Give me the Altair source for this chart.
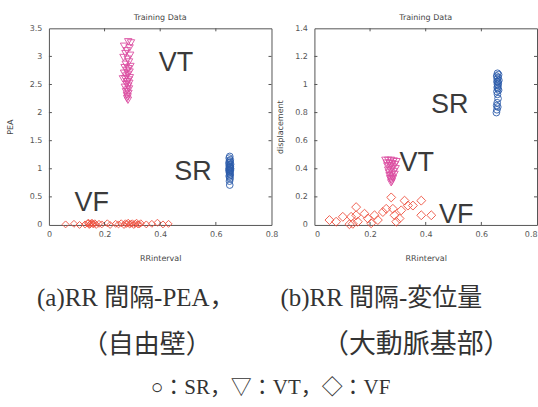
import altair as alt
import pandas as pd

# ---- panel (a): RR interval vs PEA (free wall) ----
sr_a_x = [0.650, 0.648, 0.652, 0.649, 0.651, 0.647, 0.653, 0.650, 0.648, 0.652, 0.650, 0.651, 0.649, 0.653,
          0.647, 0.650, 0.652, 0.648, 0.651, 0.649, 0.650, 0.652, 0.648, 0.650, 0.651, 0.649, 0.650]
sr_a_y = [1.22, 1.19, 1.16, 1.14, 1.12, 1.10, 1.08, 1.07, 1.05, 1.04, 1.03, 1.02, 1.01, 1.00,
          0.99, 0.98, 0.97, 0.96, 0.95, 0.93, 0.91, 0.89, 0.87, 0.85, 0.82, 0.78, 0.71]

vt_a_x = [0.285, 0.295, 0.270, 0.290, 0.280, 0.275, 0.292, 0.268, 0.283, 0.288, 0.276, 0.293, 0.272, 0.286,
          0.280, 0.290, 0.270, 0.284, 0.278, 0.291, 0.274, 0.287, 0.281, 0.266, 0.289, 0.279, 0.285, 0.273,
          0.288, 0.282, 0.277, 0.286, 0.280, 0.283, 0.281, 0.284]
vt_a_y = [3.26, 3.24, 3.18, 3.15, 3.10, 3.05, 3.02, 2.98, 2.95, 2.90, 2.86, 2.82, 2.80, 2.78,
          2.75, 2.72, 2.70, 2.68, 2.65, 2.62, 2.60, 2.58, 2.55, 2.60, 2.52, 2.50, 2.47, 2.45,
          2.42, 2.40, 2.37, 2.34, 2.31, 2.28, 2.25, 2.22]

vf_a_x = [0.06, 0.09, 0.11, 0.13, 0.14, 0.145, 0.15, 0.155, 0.16, 0.165, 0.17, 0.18, 0.19, 0.21, 0.22, 0.24,
          0.25, 0.26, 0.27, 0.28, 0.285, 0.29, 0.30, 0.305, 0.31, 0.32, 0.33, 0.35, 0.37, 0.39, 0.41, 0.43,
          0.142, 0.148, 0.152, 0.158, 0.275, 0.295, 0.315, 0.325]
vf_a_y = [0.01, 0.02, 0.00, 0.01, 0.03, 0.00, 0.02, 0.04, 0.01, 0.03, 0.00, 0.02, 0.01, 0.03, 0.00, 0.02,
          0.01, 0.03, 0.00, 0.02, 0.04, 0.01, 0.03, 0.00, 0.02, 0.01, 0.03, 0.01, 0.02, 0.04, 0.01, 0.02,
          0.04, 0.01, 0.03, 0.02, 0.03, 0.02, 0.04, 0.01]

# ---- panel (b): RR interval vs displacement (aortic root) ----
sr_b_x = [0.658, 0.662, 0.655, 0.660, 0.657, 0.663, 0.659, 0.656, 0.661, 0.658, 0.660, 0.657, 0.659, 0.662,
          0.656, 0.658, 0.660, 0.657, 0.655, 0.659, 0.656, 0.654]
sr_b_y = [1.08, 1.07, 1.06, 1.05, 1.04, 1.03, 1.02, 1.02, 1.01, 1.00, 0.99, 0.98, 0.97, 0.96,
          0.95, 0.93, 0.90, 0.87, 0.85, 0.84, 0.82, 0.80]

vt_b_x = [0.255, 0.265, 0.275, 0.285, 0.295, 0.260, 0.270, 0.280, 0.290, 0.262, 0.272, 0.282, 0.292,
          0.265, 0.275, 0.285, 0.268, 0.278, 0.288, 0.270, 0.280, 0.272, 0.282, 0.275, 0.278, 0.276]
vt_b_y = [0.46, 0.46, 0.46, 0.455, 0.45, 0.44, 0.44, 0.435, 0.43, 0.42, 0.42, 0.41, 0.40,
          0.39, 0.39, 0.38, 0.37, 0.36, 0.36, 0.35, 0.34, 0.33, 0.33, 0.32, 0.31, 0.30]

vf_b_x = [0.054, 0.078, 0.126, 0.132, 0.150, 0.156, 0.138, 0.180, 0.192, 0.216, 0.228, 0.246, 0.258, 0.276,
          0.282, 0.288, 0.294, 0.306, 0.324, 0.336, 0.354, 0.384, 0.384, 0.420, 0.312, 0.204, 0.150, 0.102]
vf_b_y = [0.035, 0.023, 0.005, 0.058, 0.127, 0.023, 0.008, 0.080, 0.046, 0.069, 0.035, 0.092, 0.115, 0.196,
          0.115, 0.069, 0.023, 0.046, 0.173, 0.138, 0.138, 0.173, 0.069, 0.069, 0.104, 0.012, 0.069, 0.058]

# class labels written inside each panel (data coordinates)
lab_names = ["VT", "SR", "VF"]
lab_a_x = [0.457, 0.518, 0.154]
lab_a_y = [2.88, 0.94, 0.39]
lab_b_x = [0.368, 0.486, 0.51]
lab_b_y = [0.44, 0.853, 0.071]

x_ticks = [0, 0.2, 0.4, 0.6, 0.8]
y_ticks_a = [0, 0.5, 1, 1.5, 2, 2.5, 3, 3.5]
y_ticks_b = [0, 0.2, 0.4, 0.6, 0.8, 1, 1.2, 1.4]

W, H = 223, 197
SR_C, VT_C, VF_C = "#2d5cab", "#dc4ea2", "#ef5140"
AX_FONT = "DejaVu Sans"
SERIF = "Liberation Serif, Noto Sans CJK JP"
TXT_C = "#333333"
FRAME = dict(stroke="#555555", strokeWidth=1)


def caption(lines):
    layers = []
    for text, cx, cy, fs in lines:
        layers.append(
            alt.Chart(pd.DataFrame({"t": [text]})).mark_text(
                font=SERIF, fontSize=fs, color=TXT_C, align="center", baseline="middle"
            ).encode(x=alt.value(cx), y=alt.value(cy), text="t:N")
        )
    return layers


def panel(sr_x, sr_y, vt_x, vt_y, vf_x, vf_y, lx, ly, y_ticks, ymax, ytitle, vf_size, title_x,
          flush, captions):
    xs = alt.Scale(domain=[0, 0.8], nice=False, zero=False)
    ys = alt.Scale(domain=[0, ymax], nice=False, zero=False)
    x_axis = alt.Axis(values=x_ticks, labelExpr="'' + datum.value", domain=False, ticks=False,
                      grid=False, labelOverlap=False, labelFlush=flush, labelFontSize=8,
                      labelFont=AX_FONT, labelColor="#555", labelPadding=6, title="RRinterval",
                      titleFont=AX_FONT, titleFontSize=8, titleFontWeight="normal",
                      titleColor="#444", titlePadding=16)
    y_axis = alt.Axis(values=y_ticks, labelExpr="'' + datum.value", domain=False, ticks=False,
                      grid=False, labelOverlap=False, labelFontSize=8, labelFont=AX_FONT,
                      labelColor="#555", labelPadding=7, title=ytitle, titleFont=AX_FONT,
                      titleFontSize=8, titleFontWeight="normal", titleColor="#444", titleX=title_x)

    def X(field):
        return alt.X(field, scale=xs, axis=x_axis)

    def Y(field):
        return alt.Y(field, scale=ys, axis=y_axis)

    def pts(x, y, shape, color, size):
        return alt.Chart(pd.DataFrame({"x": x, "y": y})).mark_point(
            shape=shape, filled=False, strokeWidth=1, size=size, color=color, opacity=0.9
        ).encode(x=X("x:Q"), y=Y("y:Q"))

    sr = pts(sr_x, sr_y, "circle", SR_C, 45)
    vt = pts(vt_x, vt_y, "triangle-down", VT_C, 55)
    vf = pts(vf_x, vf_y, "diamond", VF_C, vf_size)

    labels = alt.Chart(pd.DataFrame({"x": lx, "y": ly, "t": lab_names})).mark_text(
        font="Liberation Sans", fontSize=27, color="#3a3a3a", align="center", baseline="middle"
    ).encode(x=X("x:Q"), y=Y("y:Q"), text="t:N")

    # inward tick marks on all four sides of the box
    xt = pd.DataFrame({"x": x_ticks[1:-1]})
    yt = pd.DataFrame({"y": y_ticks[1:-1]})
    tick_style = dict(color="#555", strokeWidth=1)
    tb = alt.Chart(xt).mark_rule(**tick_style).encode(x=X("x:Q"), y=alt.value(H), y2=alt.value(H - 3))
    tt = alt.Chart(xt).mark_rule(**tick_style).encode(x=X("x:Q"), y=alt.value(0), y2=alt.value(3))
    tl = alt.Chart(yt).mark_rule(**tick_style).encode(y=Y("y:Q"), x=alt.value(0), x2=alt.value(3))
    tr = alt.Chart(yt).mark_rule(**tick_style).encode(y=Y("y:Q"), x=alt.value(W), x2=alt.value(W - 3))

    return alt.layer(vf, vt, sr, tb, tt, tl, tr, labels, *caption(captions)).properties(
        width=W, height=H,
        view=alt.ViewBackground(**FRAME),
        title=alt.TitleParams("Training Data", font=AX_FONT, fontSize=8, fontWeight="normal",
                              color="#444", offset=2, anchor="middle"),
    )


left = panel(sr_a_x, sr_a_y, vt_a_x, vt_a_y, vf_a_x, vf_a_y, lab_a_x, lab_a_y,
             y_ticks_a, 3.5, "PEA", 48, -34, False, [
                 ("(a)RR 間隔-PEA，", 87, 270, 25),
                 ("（自由壁）", 98, 317, 26),
                 ("○：SR，▽：VT，◇：VF", 222, 360, 21),
             ])
right = panel(sr_b_x, sr_b_y, vt_b_x, vt_b_y, vf_b_x, vf_b_y, lab_b_x, lab_b_y,
              y_ticks_b, 1.4, "displacement", 80, -30, True, [
                  ("(b)RR 間隔-変位量", 67, 270, 25),
                  ("（大動脈基部）", 102, 317, 27),
              ])

chart = alt.hconcat(left, right, spacing=43, bounds="flush").properties(
    padding={"left": 6, "top": 13, "right": 0, "bottom": 0}
).configure_view(**FRAME)

chart.save("out.html", embed_options={"renderer": "svg", "actions": False})
